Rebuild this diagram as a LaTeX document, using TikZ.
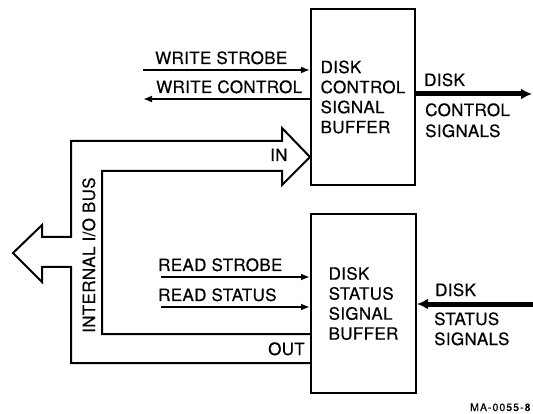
\documentclass[tikz,border=0pt]{standalone}
\usepackage{fontspec}
\setmainfont{TeX Gyre Heros}[LetterSpace=2,FakeBold=0.4]
\newfontfamily\smallfnt{TeX Gyre Heros}[LetterSpace=10,FakeBold=0.5]
\usetikzlibrary{arrows.meta}
\begin{document}
\begin{tikzpicture}[x=1pt,y=-1pt,
  lbl/.style={anchor=base west,inner sep=0pt,font=\fontsize{17}{20}\selectfont},
  buf/.style={draw,line width=2pt,align=left,inner sep=0pt,font=\fontsize{17}{20}\selectfont},
  sig/.style={line width=2pt,-{Latex[length=9pt,width=7pt]}},
  bigsig/.style={line width=5pt,-{Latex[length=11pt,width=11pt]}},
  bus/.style={line width=2pt,line join=miter}]
\useasboundingbox (0,0) rectangle (533,414);
% buffers
\node[buf,minimum width=104pt,minimum height=176pt] (cb) at (363,97)
  {DISK\\CONTROL\\SIGNAL\\BUFFER};
\node[buf,minimum width=105pt,minimum height=179pt] (sb) at (363.5,303.5)
  {DISK\\STATUS\\SIGNAL\\BUFFER};
% write signals
\coordinate (ws) at (143,70);
\coordinate (wc) at (143,99);
\draw[sig] (ws) -- (ws -| cb.west);
\draw[sig] (wc -| cb.west) -- (wc);
\node[lbl] (wsl) at (155,64) {WRITE STROBE};
\node[lbl] (wcl) at (156,93) {WRITE CONTROL};
% disk control signals
\coordinate (dco) at (532,94);
\draw[bigsig] (dco -| cb.east) -- (dco);
\node[lbl] (dcl1) at (424,86) {DISK};
\node[lbl] (dcl2) at (425,116) {CONTROL};
\node[lbl] (dcl3) at (425,137) {SIGNALS};
% read signals
\coordinate (rs) at (161,277);
\coordinate (rt) at (161,307);
\draw[sig] (rs) -- (rs -| sb.west);
\draw[sig] (rt) -- (rt -| sb.west);
\node[lbl] (rsl) at (158,271) {READ STROBE};
\node[lbl] (rtl) at (158,301) {READ STATUS};
% disk status signals
\coordinate (dsi) at (533,304);
\draw[bigsig] (dsi) -- (dsi -| sb.east);
\node[lbl] (dsl1) at (435,296) {DISK};
\node[lbl] (dsl2) at (434,325) {STATUS};
\node[lbl] (dsl3) at (434,345) {SIGNALS};
% internal I/O bus
\draw[bus] (sb.west |- 0,334) -- (102,334) -- (102,171) -- (282,171) -- (282,185)
  -- (cb.west |- 0,157) -- (282,128) -- (282,141) -- (71,141) -- (71,237)
  -- (42,237) -- (42,225) -- (13,253) -- (42,282) -- (42,267) -- (71,267)
  -- (71,363) -- (sb.west |- 0,363);
\node[lbl] (inl) at (270,161) {IN};
\node[lbl] (outl) at (268,355) {OUT};
\node[lbl,rotate=90] (busl) at (95,333) {INTERNAL I/O BUS};
\node[anchor=base west,inner sep=0pt,font=\smallfnt\fontsize{10.5}{12}\selectfont] (ma) at (470,411) {MA-0055-8};
\end{tikzpicture}
\end{document}
